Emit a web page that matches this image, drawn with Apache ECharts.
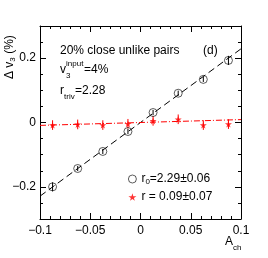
<!DOCTYPE html>
<html><head><meta charset="utf-8">
<script src="https://cdn.jsdelivr.net/npm/echarts@6/dist/echarts.min.js"></script>
<style>html,body{margin:0;padding:0;background:#fff}#c{width:268px;height:258px}</style>
</head><body><div id="c"></div>
<script>
// ---- data ----
var achBins = [-0.0875, -0.0625, -0.0375, -0.0125, 0.0125, 0.0375, 0.0625, 0.0875];
var dv3Close = [-0.200, -0.143, -0.090, -0.028, 0.031, 0.091, 0.134, 0.193];
var dv3CloseErr = [0.014, 0.008, 0.008, 0.008, 0.008, 0.008, 0.008, 0.014];
var dv3Corr = [-0.008, -0.006, -0.008, -0.004, 0.005, 0.010, -0.008, -0.005];
var dv3CorrErr = [0.015, 0.015, 0.015, 0.015, 0.015, 0.015, 0.015, 0.015];
var fitSlopes = [2.29, 0.09];        // r0, r
var fitRange = [-0.1, 0.1];
var xTicks = [-0.1, -0.05, 0, 0.05, 0.1];
var yTicks = [-0.2, 0, 0.2];

var FONT = 'Liberation Sans';
var fmt = function (v) { return String(v).replace('-', '\u2212'); };
var star = 'path://M50,0 L61,35 L98,35 L68,57 L79,91 L50,70 L21,91 L32,57 L2,35 L39,35 Z';

function fitLine(s) { return fitRange.map(function (x) { return [x, s * x]; }); }
function pts(ys) { return achBins.map(function (x, i) { return [x, ys[i]]; }); }
function errData(ys, es) { return achBins.map(function (x, i) { return [x, ys[i] - es[i], ys[i] + es[i]]; }); }
function errRender(color) {
  return function (params, api) {
    var lo = api.coord([api.value(0), api.value(1)]);
    var hi = api.coord([api.value(0), api.value(2)]);
    return { type: 'line', shape: { x1: lo[0], y1: lo[1], x2: hi[0], y2: hi[1] },
      style: { stroke: color, lineWidth: 1 } };
  };
}

var xBase = {
  type: 'value', min: fitRange[0], max: fitRange[1], interval: 0.05,
  axisLine: { onZero: false, lineStyle: { color: '#000', width: 1 } },
  axisTick: { inside: true, length: 6, lineStyle: { color: '#000' } },
  minorTick: { show: true, splitNumber: 5, length: 3, lineStyle: { color: '#000' } },
  splitLine: { show: false }, minorSplitLine: { show: false }
};
function yMinor(pos) {
  return { type: 'value', position: pos, min: -0.3, max: 0.3, interval: 0.05,
    axisLine: { show: true, onZero: false, lineStyle: { color: '#000', width: 1 } },
    axisTick: { inside: true, length: 3, lineStyle: { color: '#000' } },
    axisLabel: { show: false }, splitLine: { show: false } };
}
function yMajor(pos, labels) {
  return { type: 'value', position: pos, min: -0.3, max: 0.3, interval: 0.1,
    axisLine: { show: false, onZero: false },
    axisTick: { inside: true, length: 6, customValues: yTicks, lineStyle: { color: '#000' } },
    axisLabel: { show: labels, customValues: yTicks, formatter: fmt, fontFamily: FONT, fontSize: 12, color: '#000', margin: 4 },
    splitLine: { show: false } };
}

var chart = echarts.init(document.getElementById('c'));
chart.setOption({
  animation: false,
  backgroundColor: '#fff',
  grid: { left: 40, right: 27, top: 26, bottom: 39 },
  xAxis: [
    Object.assign({}, xBase, { position: 'bottom',
      axisLabel: { customValues: xTicks, formatter: fmt, fontFamily: FONT, fontSize: 12, color: '#000', margin: 6 } }),
    Object.assign({}, xBase, { position: 'top', axisLabel: { show: false } })
  ],
  yAxis: [yMinor('left'), yMajor('left', true), yMinor('right'), yMajor('right', false)],
  legend: {
    orient: 'vertical', left: 123, top: 168, itemWidth: 8, itemHeight: 8, itemGap: 5,
    data: [
      { name: 'r0', itemStyle: { color: 'rgba(0,0,0,0)', borderColor: '#000', borderWidth: 0.8 } },
      { name: 'r', itemStyle: { color: '#ff0000', borderWidth: 0 } }
    ],
    textStyle: { fontFamily: FONT, fontSize: 12, color: '#000',
      rich: { a: { fontFamily: FONT, fontSize: 12, color: '#000' },
              s: { fontFamily: FONT, fontSize: 8, color: '#000', padding: [6, 0, 0, 0] } } },
    formatter: function (n) { return n === 'r0' ? '{a|r}{s|0}{a|=2.29\u00b10.06}' : '{a|r = 0.09\u00b10.07}'; }
  },
  series: [
    { type: 'line', name: 'fit0', data: fitLine(fitSlopes[0]), symbol: 'none', silent: true,
      lineStyle: { color: '#000', width: 1, type: [7, 4] } },
    { type: 'line', name: 'fit1', data: fitLine(fitSlopes[1]), symbol: 'none', silent: true,
      lineStyle: { color: '#ff0000', width: 1, type: [6, 2, 1, 2] } },
    { type: 'custom', name: 'e0', data: errData(dv3Close, dv3CloseErr), renderItem: errRender('#000'), z: 3 },
    { type: 'custom', name: 'e1', data: errData(dv3Corr, dv3CorrErr), renderItem: errRender('#ff0000'), z: 3 },
    { type: 'scatter', name: 'r0', data: pts(dv3Close), symbol: 'circle', symbolSize: 8,
      itemStyle: { color: 'rgba(0,0,0,0)', borderColor: '#000', borderWidth: 0.8 }, z: 4 },
    { type: 'scatter', name: 'r', data: pts(dv3Corr), symbol: star, symbolSize: 7,
      itemStyle: { color: '#ff0000' }, z: 4 }
  ],
  graphic: [
    { type: 'text', left: 60, top: 45, style: { text: '20% close unlike pairs', font: '12px "Liberation Sans"', fill: '#000' } },
    { type: 'text', left: 203, top: 45, style: { text: '(d)', font: '12px "Liberation Sans"', fill: '#000' } },
    { type: 'text', left: 60, top: 64, style: { text: 'v', font: '12px "Liberation Sans"', fill: '#000' } },
    { type: 'text', left: 66, top: 72, style: { text: '3', font: '8px "Liberation Sans"', fill: '#000' } },
    { type: 'text', left: 66, top: 60, style: { text: 'input', font: '8px "Liberation Sans"', fill: '#000' } },
    { type: 'text', left: 84, top: 64, style: { text: '=4%', font: '12px "Liberation Sans"', fill: '#000' } },
    { type: 'text', left: 60, top: 85, style: { text: 'r', font: '12px "Liberation Sans"', fill: '#000' } },
    { type: 'text', left: 64, top: 93, style: { text: 'triv', font: '8px "Liberation Sans"', fill: '#000' } },
    { type: 'text', left: 75, top: 85, style: { text: '=2.28', font: '12px "Liberation Sans"', fill: '#000' } },
    { type: 'text', left: 225, top: 236, style: { text: 'A', font: '12px "Liberation Sans"', fill: '#000' } },
    { type: 'text', left: 233, top: 244, style: { text: 'ch', font: '8px "Liberation Sans"', fill: '#000' } },
    { type: 'text', x: 3, y: 79, rotation: Math.PI / 2,
      style: { text: '{a|\u0394 v}{s|3}{a| (%)}', fill: '#000',
        rich: { a: { font: '12px "Liberation Sans"', fill: '#000' },
                s: { font: '8px "Liberation Sans"', fill: '#000', padding: [6, 0, 0, 0] } } } }
  ]
});
</script></body></html>
